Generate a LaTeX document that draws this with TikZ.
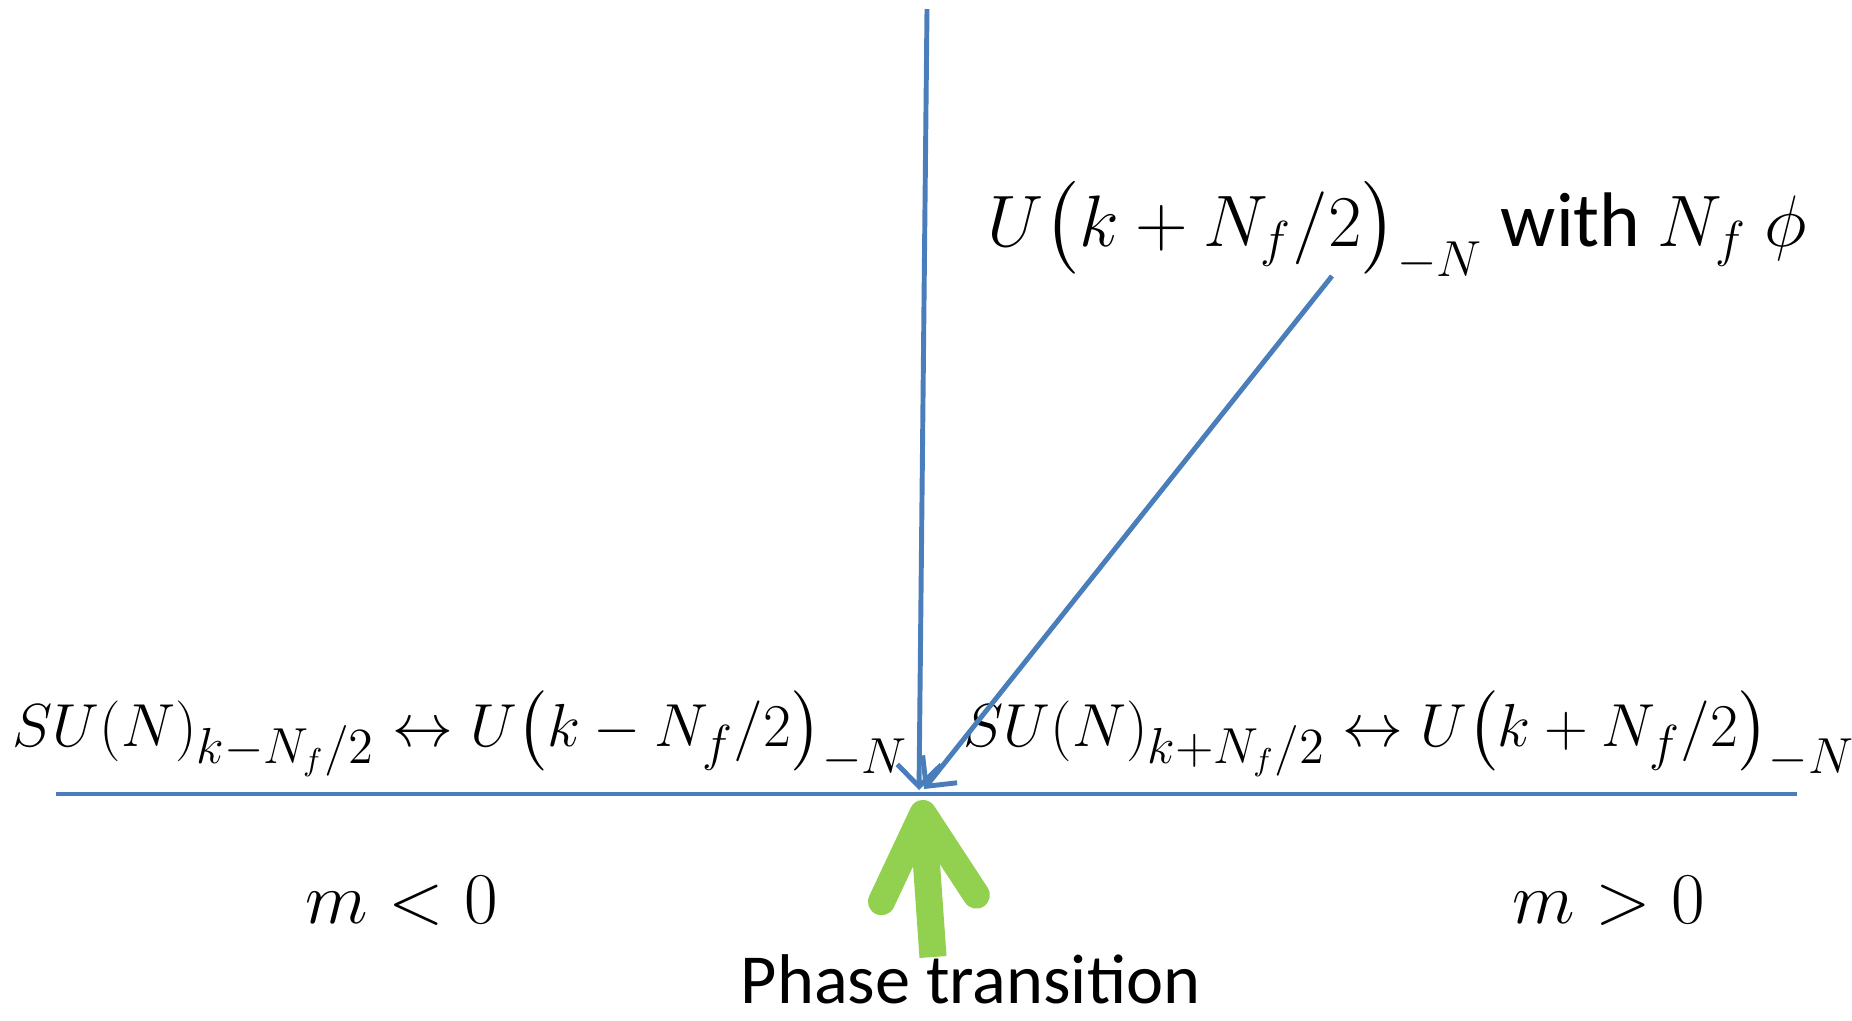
\documentclass[tikz,border=0pt]{standalone}
\usepackage[no-math]{fontspec}
\setmainfont{Carlito}
\usepackage{amsmath,amssymb}
\usepackage{tikz}
\usetikzlibrary{arrows.meta,positioning,calc}

\definecolor{lineblue}{HTML}{4A7EBB}
\definecolor{arrgreen}{HTML}{92D050}

\begin{document}
\begin{tikzpicture}[
  x=0.01cm,y=-0.01cm,
  lbl/.style={inner sep=0pt,anchor=base west,font=\fontsize{19}{22}\selectfont},
  toplbl/.style={lbl,font=\fontsize{22}{26}\selectfont},
  mlbl/.style={lbl,font=\fontsize{21.5}{24}\selectfont},
  axis/.style={draw=lineblue,line width=0.9pt},
  sig2/.style={-{Straight Barb[length=2.2mm,width=4.4mm]},draw=lineblue,line width=1.4pt},
  bigarr/.style={-{Straight Barb[length=8.5mm,width=9.5mm,round]},draw=arrgreen,
                 line width=7.7pt,line cap=butt}]
\useasboundingbox (0,0) rectangle (1852,1020);

% axis and the critical point
\coordinate (axl) at (56,794);
\coordinate (axr) at (1797,794);
\coordinate (crit) at (919,790);
\draw[axis] (axl) -- (axr);

% labels
\node[toplbl] (ulbl) at (987,246) {$U\bigl(k+N_f/2\bigr)_{-N}$ with $N_f\ \phi$};
\node[lbl] (lphase) at (12,746) {$SU(N)_{k-N_f/2}\leftrightarrow U\bigl(k-N_f/2\bigr)_{-N}$};
\node[lbl] (rphase) at (963,746) {$SU(N)_{k+N_f/2}\leftrightarrow U\bigl(k+N_f/2\bigr)_{-N}$};
\node[mlbl] (mneg) at (305,923) {$m<0$};
\node[mlbl] (mpos) at (1512,923) {$m>0$};
\node[lbl,font=\fontsize{20}{24}\selectfont] (ptlbl) at (740,1003) {Phase transition};

% arrows
\coordinate (vtop) at (927,9);
\coordinate (dtop) at (1332,276);
\coordinate (ptop) at (933,957);
\draw[sig2] (vtop) -- (crit);
\draw[sig2] (dtop) -- ($(crit)+(5,-1)$);
\draw[bigarr] (ptop) -- (922,800);

\end{tikzpicture}
\end{document}
